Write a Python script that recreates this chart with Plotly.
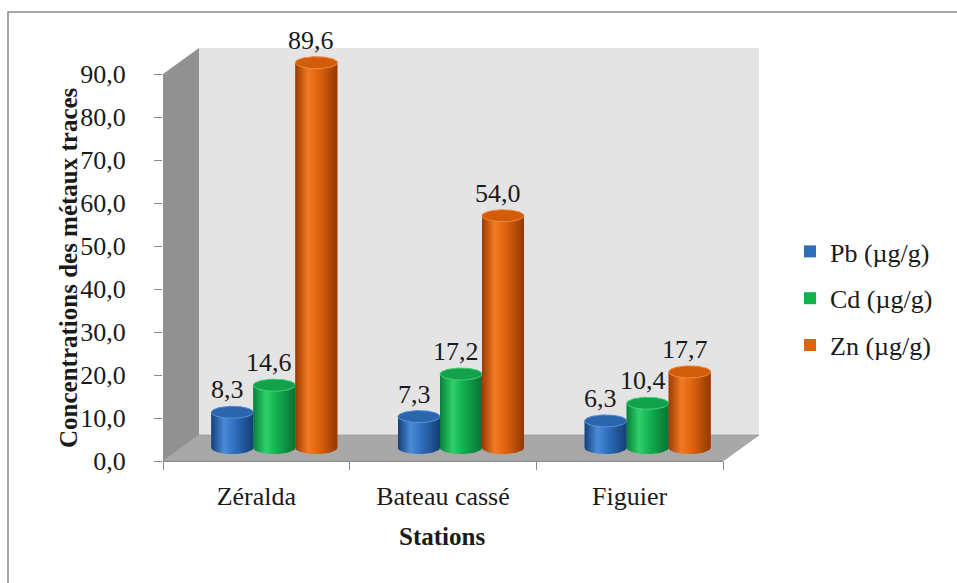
import numpy as np
import plotly.graph_objects as go

# ---- data ----
stations = ["Zéralda", "Bateau cassé", "Figuier"]
series_names = ["Pb (µg/g)", "Cd (µg/g)", "Zn (µg/g)"]
pb = [8.3, 7.3, 6.3]
cd = [14.6, 17.2, 10.4]
zn = [89.6, 54.0, 17.7]
y_ticks = [0, 10, 20, 30, 40, 50, 60, 70, 80, 90]

# ---- styling ----
W, H = 957, 583
FONT = "Liberation Serif"
body_scales = [
    [[0, "#163f78"], [0.3, "#4a8bd8"], [0.55, "#2f6fbd"], [1, "#153d74"]],
    [[0, "#08803a"], [0.3, "#2fd06a"], [0.55, "#12b050"], [1, "#077332"]],
    [[0, "#9a3c05"], [0.3, "#f27a22"], [0.55, "#e0640f"], [1, "#933803"]],
]
cap_colors = ["#2a65ad", "#12a24b", "#d35c0a"]
cap_rims = ["#5b93d8", "#45d27c", "#f08a40"]
bar_colors = ["#2e6db8", "#13b04e", "#e0640f"]

# geometry (pixels): front plane, depth offset per half-depth
FX0, FX1 = 163, 723          # front x-axis extent
FY0, FY90 = 461, 74          # front y pixel of 0 and 90
DX, DY = 18, -13             # half-depth offset
K = (FY0 - FY90) / 90.0      # px per unit

def px(x):
    return x / W

def py(y):
    return 1 - y / H

fig = go.Figure()

# invisible trace to hold the front category axis
fig.add_trace(go.Scatter(x=stations, y=[0, 0, 0], mode="markers",
                         marker=dict(opacity=0), hoverinfo="skip",
                         showlegend=False, xaxis="x", yaxis="y"))

w = 0.225                    # bar width in category units
a = w / 2                    # cylinder x half-width
b = 1.4                      # cylinder y half-height (value units)
t_bot = np.linspace(np.pi, 2 * np.pi, 40)
t_top = np.linspace(0, np.pi, 40)
t_full = np.linspace(0, 2 * np.pi, 80)

all_series = [pb, cd, zn]
xs = np.arange(len(stations))

for j, (name, vals) in enumerate(zip(series_names, all_series)):
    # plain bars (also provide the legend entries)
    fig.add_trace(go.Bar(
        x=xs, y=vals, width=w, offset=(j - 1.5) * w,
        marker=dict(color=bar_colors[j], line=dict(width=0)),
        name=name, legendgroup=name, xaxis="x2", yaxis="y2",
        hoverinfo="skip"))

for j, vals in enumerate(all_series):
    for i, v in enumerate(vals):
        xc = i + (j - 1) * w
        bx = np.concatenate([xc + a * np.cos(t_bot), xc + a * np.cos(t_top)])
        by = np.concatenate([b * np.sin(t_bot), v + b * np.sin(t_top)])
        fig.add_trace(go.Scatter(
            x=np.append(bx, bx[0]), y=np.append(by, by[0]),
            mode="lines", line=dict(width=0), fill="toself",
            fillgradient=dict(type="horizontal", colorscale=body_scales[j],
                              start=xc - a, stop=xc + a),
            hoverinfo="skip", showlegend=False, xaxis="x2", yaxis="y2"))
        fig.add_trace(go.Scatter(
            x=xc + a * np.cos(t_full), y=v + b * np.sin(t_full),
            mode="lines", line=dict(width=1, color=cap_rims[j]),
            fill="toself", fillcolor=cap_colors[j],
            hoverinfo="skip", showlegend=False, xaxis="x2", yaxis="y2"))

annotations = []
for j, vals in enumerate(all_series):
    for i, v in enumerate(vals):
        xc = i + (j - 1) * w
        annotations.append(dict(
            x=xc, y=v + b, xref="x2", yref="y2", xanchor="center",
            yanchor="bottom", xshift=-5, yshift=0, showarrow=False,
            text=f"{v:.1f}".replace(".", ","),
            font=dict(family=FONT, size=26, color="#1a1a1a")))

annotations.append(dict(
    x=px(68), y=py(268), xref="paper", yref="paper", textangle=-90,
    xanchor="center", yanchor="middle",
    text="<b>Concentrations des métaux traces</b>", showarrow=False,
    font=dict(family=FONT, size=25, color="#1a1a1a")))
annotations.append(dict(
    x=px(442), y=py(536), xref="paper", yref="paper",
    xanchor="center", yanchor="middle",
    text="<b>Stations</b>", showarrow=False,
    font=dict(family=FONT, size=25, color="#1a1a1a")))

def poly(points, color, line_color=None):
    path = "M " + " L ".join(f"{px(x)},{py(y)}" for x, y in points) + " Z"
    return dict(type="path", path=path, xref="paper", yref="paper",
                fillcolor=color, line=dict(width=0.8 if line_color else 0,
                                           color=line_color or color),
                layer="below")

shapes = [
    # outer frame
    dict(type="rect", xref="paper", yref="paper", x0=px(8), x1=px(980),
         y0=py(12), y1=py(600), line=dict(color="#8a8a8a", width=1.5),
         fillcolor="white", layer="below"),
    # back wall
    poly([(FX0 + 2 * DX, FY90 + 2 * DY), (FX1 + 2 * DX, FY90 + 2 * DY),
          (FX1 + 2 * DX, FY0 + 2 * DY), (FX0 + 2 * DX, FY0 + 2 * DY)],
         "#e4e4e4"),
    # side wall
    poly([(FX0, FY0), (FX0, FY90), (FX0 + 2 * DX, FY90 + 2 * DY),
          (FX0 + 2 * DX, FY0 + 2 * DY)], "#919191"),
    # floor
    poly([(FX0, FY0), (FX0 + 2 * DX, FY0 + 2 * DY),
          (FX1 + 2 * DX, FY0 + 2 * DY), (FX1, FY0)], "#a8a8a8", "#9a9a9a"),
]

mid_lo, mid_hi = -5, 95
mid_y0 = FY0 + DY

fig.update_layout(
    width=W, height=H,
    margin=dict(l=0, r=0, t=0, b=0, autoexpand=False),
    paper_bgcolor="white", plot_bgcolor="rgba(0,0,0,0)",
    barmode="overlay",
    showlegend=True,
    legend=dict(x=px(790), y=py(228), xanchor="left", yanchor="top",
                font=dict(family=FONT, size=26, color="#1a1a1a"),
                tracegroupgap=10, bgcolor="rgba(0,0,0,0)"),
    xaxis=dict(domain=[px(FX0), px(FX1)], type="category",
               categoryorder="array", categoryarray=stations,
               range=[-0.5, 2.5], showline=True, linecolor="#8c8c8c",
               linewidth=1, ticks="outside", tickson="boundaries",
               ticklen=8, tickcolor="#8c8c8c", showgrid=False,
               zeroline=False, ticklabelstandoff=12, automargin=False,
               tickfont=dict(family=FONT, size=26, color="#1a1a1a"),
               fixedrange=True),
    yaxis=dict(domain=[py(FY0), py(FY90)], range=[0, 90],
               tickvals=y_ticks,
               ticktext=[f"{t:.1f}".replace(".", ",") for t in y_ticks],
               ticks="outside", ticklen=8, tickcolor="#8c8c8c",
               showline=False, showgrid=False, zeroline=False,
               ticklabelstandoff=23, automargin=False,
               tickfont=dict(family=FONT, size=26, color="#1a1a1a"),
               fixedrange=True),
    xaxis2=dict(domain=[px(FX0 + DX), px(FX1 + DX)], range=[-0.5, 2.5],
                anchor="y2", visible=False, fixedrange=True,
                automargin=False),
    yaxis2=dict(domain=[py(mid_y0 - mid_lo * K), py(mid_y0 - mid_hi * K)],
                range=[mid_lo, mid_hi], anchor="x2", visible=False,
                fixedrange=True, automargin=False),
    shapes=shapes,
    annotations=annotations,
)

fig.write_html("out.html")
